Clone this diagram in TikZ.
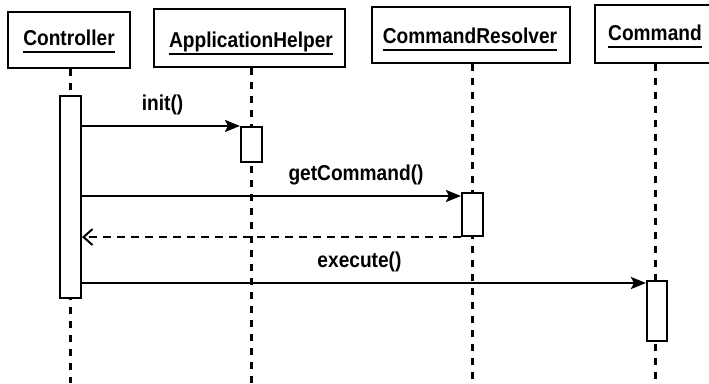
\documentclass[tikz,border=0pt]{standalone}
\usepackage{fontspec}
\setmainfont{Liberation Sans}[FakeStretch=0.89]
\usetikzlibrary{arrows.meta,calc}
\begin{document}
\begin{tikzpicture}[x=1pt,y=-1pt,
  obj/.style={draw, line width=2.1pt, inner sep=0pt},
  lbl/.style={font=\bfseries\fontsize{21.5}{25}\selectfont, inner sep=0pt, anchor=base},
  uline/.style={line width=2pt},
  life/.style={line width=3pt, dash pattern=on 7pt off 7pt},
  act/.style={draw, fill=white, line width=2.1pt, inner sep=0pt},
  msg/.style={line width=2.2pt, -{Stealth[length=15pt,width=12pt,inset=3pt]}},
  ret/.style={line width=2.2pt, dash pattern=on 8pt off 6pt, -{Straight Barb[length=9pt,width=16pt,line width=2pt]}},
  mlbl/.style={font=\bfseries\fontsize{21.5}{25}\selectfont, inner sep=0pt, above=10pt}
]
\useasboundingbox (0,0) rectangle (709,383);
\clip (0,0) rectangle (709,383);

% object boxes
\node[obj, minimum width=122pt, minimum height=56pt] (bC)   at (69,40)    {};
\node[obj, minimum width=191pt, minimum height=58pt] (bAH)  at (249.5,38) {};
\node[obj, minimum width=198pt, minimum height=56pt] (bCR)  at (471,35)   {};
\node[obj, minimum width=120pt, minimum height=58pt] (bCmd) at (655,34)   {};

% object names
\node[lbl] (tC)   at (69,45.7) {Controller};
\node[lbl] (tAH)  at (251,47)  {ApplicationHelper};
\node[lbl] (tCR)  at (470,43)    {CommandResolver};
\node[lbl] (tCmd) at (655,40)    {Command};
\foreach \t in {tC,tAH,tCR,tCmd}
  \draw[uline] ([yshift=-6.5pt]\t.base west) -- ([yshift=-6.5pt]\t.base east);

% lifeline ends
\coordinate (eC)   at (70,383);
\coordinate (eAH)  at (251,383);
\coordinate (eCR)  at (472,383);
\coordinate (eCmd) at (655,383);

\draw[life] (eC |- bC.south) -- (eC);
\draw[life] (eAH |- bAH.south) -- (eAH);
\draw[life] (eCR |- bCR.south) -- (eCR);
\draw[life] (eCmd |- bCmd.south) -- (eCmd);

% activation boxes
\node[act, minimum width=21pt, minimum height=202pt] (aC)   at (70.5,197)   {};
\node[act, minimum width=21pt, minimum height=35pt]  (aAH)  at (251.5,144.5) {};
\node[act, minimum width=21pt, minimum height=43pt]  (aCR)  at (472.5,214.5) {};
\node[act, minimum width=20pt, minimum height=60pt]  (aCmd) at (657,311)    {};

% message levels
\coordinate (m2) at (0,196);
\coordinate (m3) at (0,283);

% messages
\draw[msg] (aC.east |- aAH.north west) -- (aAH.north west)
  node[mlbl, pos=0.51] {init()};
\draw[msg] (aC.east |- m2) -- (aCR.west |- m2)
  node[mlbl, pos=0.723] {getCommand()};
\draw[ret] (aCR.south west) -- (aC.east |- aCR.south west);
\draw[msg] (aC.east |- m3) -- (aCmd.west |- m3)
  node[mlbl, pos=0.492] {execute()};
\end{tikzpicture}
\end{document}
